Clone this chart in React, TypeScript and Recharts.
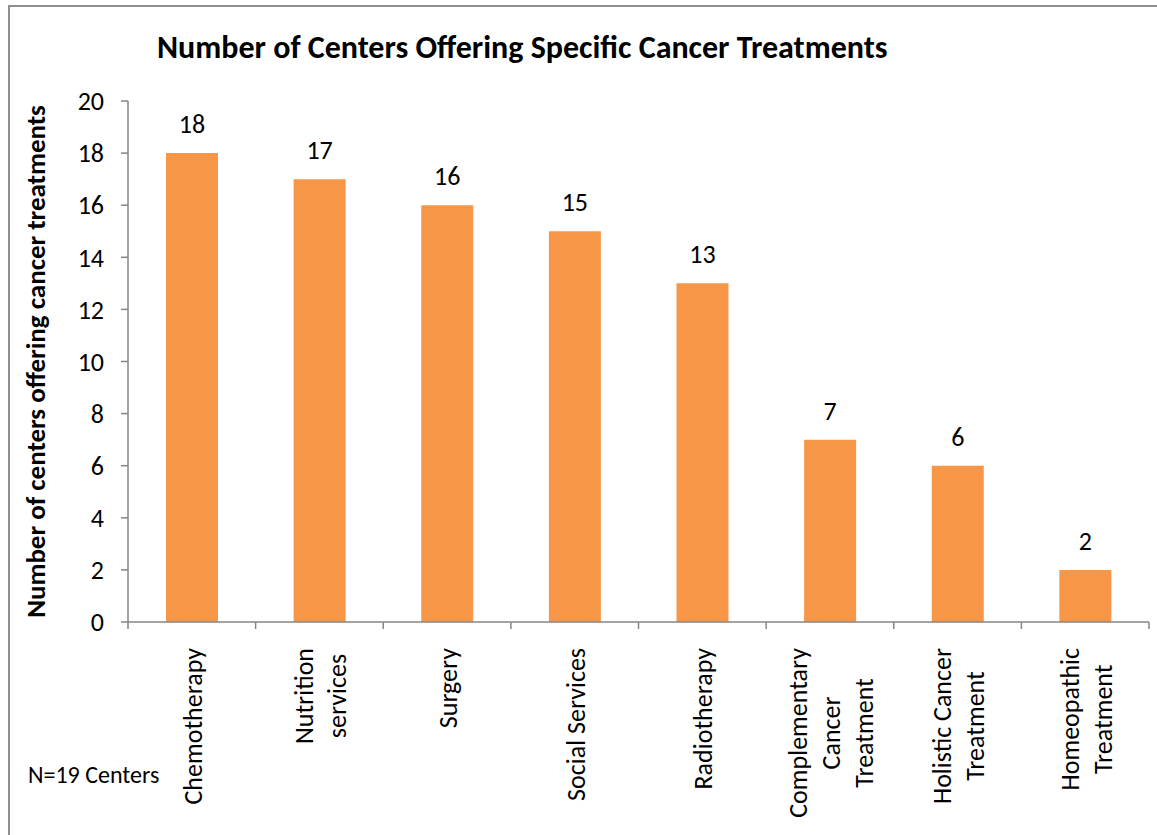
import React from "react";
import { BarChart, Bar, XAxis, YAxis, LabelList } from "recharts";

const categories = [
  "Chemotherapy",
  "Nutrition\nservices",
  "Surgery",
  "Social Services",
  "Radiotherapy",
  "Complementary\nCancer\nTreatment",
  "Holistic Cancer\nTreatment",
  "Homeopathic\nTreatment",
];
const centers = [18, 17, 16, 15, 13, 7, 6, 2];
const yTicks = [0, 2, 4, 6, 8, 10, 12, 14, 16, 18, 20];

const titleText = "Number of Centers Offering Specific Cancer Treatments";
const yTitle = "Number of centers offering cancer treatments";
const noteText = "N=19 Centers";

const data = categories.map((c, i) => ({ name: c, value: centers[i] }));

const W = 1157;
const H = 835;
const PLOT_LEFT = 128;
const PLOT_RIGHT = 1149;
const PLOT_TOP = 101;
const PLOT_BOTTOM = 622;
const STEP = (PLOT_RIGHT - PLOT_LEFT) / categories.length;
const FONT = "Carlito, Lato, 'Open Sans', sans-serif";
const AXIS = "#868686";
const BAR = "#F79646";
const CAT_SIZE = 26;

let _canvas: HTMLCanvasElement | null = null;
function measure(text: string, font: string): number {
  if (!_canvas) _canvas = document.createElement("canvas");
  const ctx = _canvas.getContext("2d");
  if (!ctx) return text.length * 13;
  ctx.font = font;
  return ctx.measureText(text).width;
}

const CategoryTick = (props: any) => {
  const { x, y, payload, index } = props;
  const lines = String(payload.value).split("\n");
  const font = `${CAT_SIZE}px ${FONT}`;
  const L = Math.max(...lines.map((l) => measure(l, font)));
  const n = lines.length;
  const topY = y + 26;
  return (
    <g>
      <line x1={x - STEP / 2} x2={x - STEP / 2} y1={y} y2={y + 7} stroke={AXIS} strokeWidth={1.5} />
      {index === categories.length - 1 && (
        <line x1={x + STEP / 2} x2={x + STEP / 2} y1={y} y2={y + 7} stroke={AXIS} strokeWidth={1.5} />
      )}
      {lines.map((l, i) => {
        const bx = x + 10 + (i - (n - 1) / 2) * 33;
        const cy = topY + L / 2;
        return (
          <text
            key={i}
            transform={`translate(${bx},${cy}) rotate(-90)`}
            textAnchor="middle"
            fontSize={CAT_SIZE}
            fontFamily={FONT}
            fill="#000"
          >
            {l}
          </text>
        );
      })}
    </g>
  );
};

export default function App() {
  return (
    <div style={{ position: "absolute", left: 0, top: 0, width: W, height: H, overflow: "hidden", background: "#fff" }}>
      <div
        style={{
          position: "absolute",
          left: 8,
          top: 5,
          width: W + 20,
          height: H + 20,
          borderLeft: "2px solid #8f8f8f",
          borderTop: "2px solid #8f8f8f",
          boxSizing: "border-box",
        }}
      />
      <div style={{ position: "absolute", left: 0, top: 0 }}>
        <BarChart
          width={W}
          height={H}
          data={data}
          margin={{ top: PLOT_TOP, right: W - PLOT_RIGHT, bottom: 0, left: 0 }}
        >
          <XAxis
            dataKey="name"
            height={H - PLOT_BOTTOM}
            interval={0}
            tickSize={0}
            tickMargin={0}
            tickLine={false}
            axisLine={{ stroke: AXIS, strokeWidth: 1.5 }}
            tick={(p: any) => <CategoryTick {...p} />}
          />
          <YAxis
            width={PLOT_LEFT}
            domain={[0, 20]}
            ticks={yTicks}
            interval={0}
            tickSize={7}
            tickMargin={17}
            axisLine={{ stroke: AXIS, strokeWidth: 1.5 }}
            tickLine={{ stroke: AXIS, strokeWidth: 1.5 }}
            tick={{ fill: "#000", fontSize: 26, fontFamily: FONT }}
          />
          <Bar dataKey="value" fill={BAR} barSize={52} isAnimationActive={false}>
            <LabelList
              dataKey="value"
              position="top"
              offset={20}
              fill="#000"
              fontSize={26}
              fontFamily={FONT}
            />
          </Bar>
        </BarChart>
      </div>
      <svg width={W} height={H} style={{ position: "absolute", left: 0, top: 0, pointerEvents: "none" }}>
        <text x={157} y={58} fontSize={32} fontWeight="bold" fontFamily={FONT} fill="#000">
          {titleText}
        </text>
        <text
          transform={`translate(45,${(PLOT_TOP + PLOT_BOTTOM) / 2}) rotate(-90)`}
          textAnchor="middle"
          fontSize={27}
          fontWeight="bold"
          fontFamily={FONT}
          fill="#000"
        >
          {yTitle}
        </text>
        <text x={28} y={783} fontSize={24} fontFamily={FONT} fill="#000">
          {noteText}
        </text>
      </svg>
    </div>
  );
}
